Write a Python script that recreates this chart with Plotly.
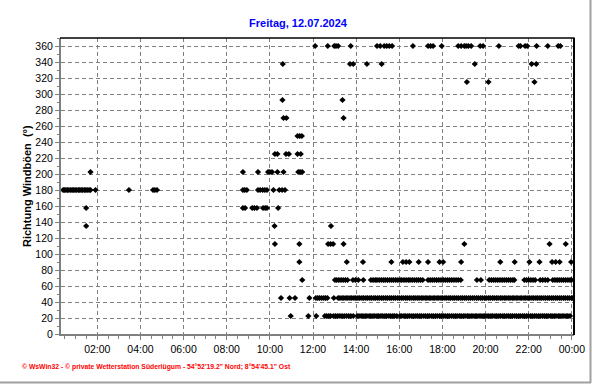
import pandas as pd
import plotly.graph_objects as go

DAY = "2024-07-12"
TITLE = "Freitag, 12.07.2024"
Y_TITLE = "Richtung Windböen  (°)"
FOOTER = "© WsWin32 - © private Wetterstation Süderlügum - 54°52'19.2\" Nord; 8°54'45.1\" Ost"

# direction bands (degrees)
directions = [360, 337.5, 315, 292.5, 270, 247.5, 225, 202.5, 180, 157.5, 135, 112.5, 90, 67.5, 45, 22.5]

# times of day (minutes after midnight) at which each direction was recorded
t360 = [726, 761, 779, 784, 790, 825, 898, 907, 918, 925, 932, 940, 998, 1040, 1047, 1054, 1078,
        1124, 1132, 1141, 1146, 1152, 1160, 1185, 1193, 1237, 1292, 1297, 1310, 1316, 1342, 1373,
        1402, 1408]
t337 = [636, 823, 832, 870, 911, 1170, 1328, 1341]
t315 = [1148, 1208, 1336]
t292 = [635, 802]
t270 = [638, 646, 805]
t247 = [677, 683, 689]
t225 = [614, 621, 645, 653, 677, 686]
t202 = [101, 525, 567, 595, 600, 606, 621, 638, 679, 684, 690]
t180 = [25, 29, 33, 37, 41, 46, 50, 54, 58, 62, 67, 71, 75, 79, 84, 88, 92, 97, 101, 115, 208,
        275, 280, 286, 525, 530, 536, 567, 573, 580, 586, 592, 610, 626, 634, 642]
t157 = [89, 525, 531, 551, 557, 564, 581, 587, 592, 623]
t135 = [89, 613, 770]
t112 = [614, 682, 762, 769, 776, 805, 1141, 1378, 1423]
t90 = [682, 814, 859, 938, 970, 979, 988, 1014, 1040, 1072, 1082, 1132, 1241, 1281, 1322, 1350,
       1385, 1395, 1406, 1438]
t67 = [690, 781, 786, 792, 798, 804, 810, 816, 831, 838, 846, 860,
       881, 887, 893, 898, 904, 910, 916, 921, 927, 933, 939, 944, 950, 956, 962, 967, 973, 979,
       985, 990, 996, 1002, 1008, 1013, 1019, 1025,
       1040, 1046, 1052, 1058, 1064, 1070, 1076, 1082, 1088, 1094, 1100, 1106, 1112, 1118, 1124, 1131,
       1176, 1187,
       1210, 1216, 1222, 1228, 1234, 1240, 1246, 1252, 1258, 1264, 1270, 1276, 1280,
       1308, 1314, 1320, 1326, 1332, 1338,
       1352, 1359, 1366, 1373,
       1387, 1393, 1399, 1405, 1411, 1417, 1423, 1429, 1435, 1439]
t45 = [631, 655, 670, 710, 728, 733, 738, 744, 750, 755, 760, 778,
       790, 795, 801, 806, 812, 817, 823, 828, 834, 839, 845, 850, 856, 861, 867, 872, 878, 883,
       889, 894, 900, 905, 911, 916, 922, 927, 933, 938, 944, 949, 955, 960, 966, 971, 977, 982,
       988, 993, 999, 1004, 1010, 1015, 1021, 1026, 1032, 1037, 1043, 1048, 1054, 1059, 1065, 1070,
       1076, 1081, 1087, 1092, 1098, 1103, 1109, 1114, 1120, 1125, 1131, 1136, 1142, 1147, 1153,
       1158, 1164, 1169, 1175, 1180, 1186, 1191, 1197, 1202, 1208, 1213, 1219, 1224, 1230, 1235,
       1241, 1246, 1252, 1257, 1263, 1268, 1274, 1279, 1285, 1290, 1296, 1301, 1307, 1312, 1318,
       1323, 1329, 1334, 1340, 1345, 1351, 1356, 1362, 1367, 1373, 1378, 1384, 1389, 1395, 1400,
       1406, 1411, 1417, 1422, 1428, 1433, 1439, 1443]
t22 = [658, 707, 729, 753, 758, 764, 769, 777, 783, 789, 795, 801, 807, 813, 819, 825, 832,
       843, 848, 854, 859, 865, 870, 876, 881, 887, 892, 898, 903, 909, 914, 920, 925, 931, 936,
       942, 947, 953, 962, 967, 973, 978, 984, 989, 995, 1000, 1006, 1011, 1017, 1022, 1028, 1033,
       1039, 1044, 1050, 1055, 1061, 1066, 1072, 1077, 1083, 1088, 1094, 1099, 1105, 1110, 1116,
       1121, 1127, 1132, 1138, 1143, 1149, 1154, 1160, 1165, 1171, 1176, 1182, 1187, 1193, 1198,
       1204, 1209, 1215, 1220, 1226, 1231, 1237, 1242, 1248, 1253, 1259, 1264, 1270, 1275, 1281,
       1286, 1292, 1297, 1303, 1308, 1314, 1319, 1325, 1330, 1336, 1341, 1347, 1352, 1358, 1363,
       1369, 1374, 1380, 1385, 1391, 1396, 1402, 1407, 1413, 1418, 1424, 1429, 1435]

series_times = [t360, t337, t315, t292, t270, t247, t225, t202, t180, t157, t135, t112, t90, t67, t45, t22]

base = pd.Timestamp(DAY)
xs, ys = [], []
for d, times in zip(directions, series_times):
    for m in times:
        xs.append(base + pd.Timedelta(minutes=m))
        ys.append(d)

fig = go.Figure()
fig.add_trace(go.Scatter(
    x=xs, y=ys, mode="markers",
    marker=dict(symbol="diamond", size=4.8, color="black", line=dict(width=0)),
    hoverinfo="skip"))

W, H = 592, 384
L, R, T, B = 61, 574, 38, 334
FONT = "Liberation Sans, Arial, sans-serif"
grid = "#808080"

fig.update_layout(
    width=W, height=H,
    margin=dict(l=L, r=W - R, t=T, b=H - B, autoexpand=False),
    paper_bgcolor="white", plot_bgcolor="white", showlegend=False,
    font=dict(family=FONT, size=10.5, color="black"),
    title=dict(text="<b>" + TITLE + "</b>", font=dict(family=FONT, size=11, color="#0000FF"),
               x=298 / W, xref="container", xanchor="center",
               y=1 - 23 / H, yref="container", yanchor="middle"),
)

fig.update_xaxes(
    type="date",
    range=[base + pd.Timedelta(minutes=19), base + pd.Timedelta(minutes=1446)],
    tick0=base, dtick=2 * 3600 * 1000, tickformat="%H:%M",
    showgrid=True, gridcolor=grid, gridwidth=1, griddash="4px,3px",
    showline=True, linecolor=grid, linewidth=2,
    ticks="outside", ticklen=4, tickcolor=grid,
    minor=dict(dtick=30 * 60 * 1000, ticks="outside", ticklen=3, tickcolor=grid, showgrid=False),
    tickfont=dict(family=FONT, size=10.5, color="black"),
    zeroline=False,
)
fig.update_yaxes(
    range=[0, 370], tick0=0, dtick=20,
    showgrid=True, gridcolor=grid, gridwidth=1, griddash="4px,3px",
    showline=True, linecolor=grid, linewidth=2,
    ticks="outside", ticklen=4, tickcolor=grid,
    minor=dict(dtick=10, ticks="outside", ticklen=2, tickcolor=grid, showgrid=False),
    tickfont=dict(family=FONT, size=10.5, color="black"),
    zeroline=False,
)

pw, ph = R - L, B - T
def px(x):
    return (x - L) / pw
def py(y):
    return (B - y) / ph

shapes = [
    dict(type="line", xref="paper", yref="paper", x0=px(60), x1=px(574.5), y0=1, y1=1,
         line=dict(color="black", width=1.5)),
    dict(type="line", xref="paper", yref="paper", x0=px(574), x1=px(574), y0=py(38), y1=py(335),
         line=dict(color="black", width=2)),
    dict(type="line", xref="paper", yref="paper", x0=px(590.5), x1=px(590.5), y0=py(0), y1=py(383),
         line=dict(color="#a0a0a0", width=2)),
    dict(type="line", xref="paper", yref="paper", x0=px(0), x1=px(591), y0=py(382.5), y1=py(382.5),
         line=dict(color="#a0a0a0", width=2)),
]
fig.update_layout(shapes=shapes)

fig.add_annotation(text="<b>" + Y_TITLE + "</b>", textangle=-90, xref="paper", yref="paper",
                   x=px(27), y=py(186), xanchor="center", yanchor="middle", showarrow=False,
                   font=dict(family=FONT, size=11, color="black"))
fig.add_annotation(text="<b>" + FOOTER + "</b>", xref="paper", yref="paper",
                   x=px(20), y=py(367), xanchor="left", yanchor="middle", showarrow=False,
                   font=dict(family=FONT, size=6.8, color="#FF0000"))

fig.write_html("out.html", config={"displayModeBar": False},
               post_script="document.body.style.margin='0';document.body.style.overflow='hidden';")
